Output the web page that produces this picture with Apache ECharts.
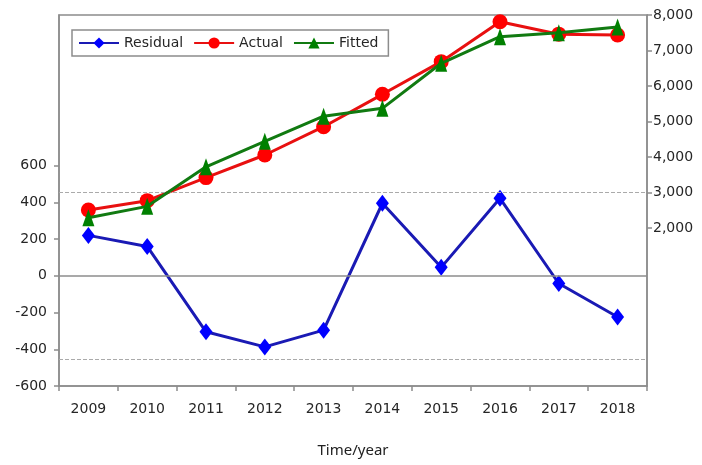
<!DOCTYPE html>
<html>
<head>
<meta charset="utf-8">
<script src="https://cdn.jsdelivr.net/npm/echarts@6/dist/echarts.min.js"></script>
<style>
  html, body { margin: 0; padding: 0; background: #fff; }
  #chart { width: 702px; height: 465px; }
</style>
</head>
<body>
<div id="chart"></div>
<script>
// Years on the horizontal axis
var years = ['2009', '2010', '2011', '2012', '2013', '2014', '2015', '2016', '2017', '2018'];
// Observed values (right axis)
var actual = [2507, 2770, 3420, 4056, 4854, 5766, 6686, 7811, 7460, 7437];
// Model fitted values (right axis)
var fitted = [2287, 2610, 3725, 4443, 5150, 5371, 6640, 7389, 7502, 7661];
// Residual = actual - fitted (left axis)
var residual = [220, 160, -305, -387, -296, 395, 46, 422, -42, -224];
// Residual reference lines: +/- one standard error
var residualBand = [455, -455];
// Tick labels shown on each value axis
var leftTicks = [-600, -400, -200, 0, 200, 400, 600];
var rightTicks = [2000, 3000, 4000, 5000, 6000, 7000, 8000];

function withCommas(v) {
  return String(v).replace(/\B(?=(\d{3})+(?!\d))/g, ',');
}

var axisGray = '#8c8c8c';
var labelStyle = { color: '#262626', fontSize: 14, fontFamily: 'DejaVu Sans, Verdana, sans-serif' };

var chart = echarts.init(document.getElementById('chart'), null, { renderer: 'canvas' });

chart.setOption({
  animation: false,
  backgroundColor: '#fff',
  grid: {
    left: 59, right: 55, top: 15, bottom: 79,
    show: true, borderColor: axisGray, borderWidth: 1.5, backgroundColor: 'transparent'
  },
  legend: {
    left: 72, top: 30,
    orient: 'horizontal',
    padding: [6, 10, 6, 6],
    itemGap: 10,
    itemWidth: 40, itemHeight: 14,
    borderColor: axisGray, borderWidth: 1.5,
    textStyle: { color: '#262626', fontSize: 14, fontFamily: 'DejaVu Sans, Verdana, sans-serif' },
    data: ['Residual', 'Actual', 'Fitted']
  },
  xAxis: {
    type: 'category',
    data: years,
    boundaryGap: true,
    name: 'Time/year',
    nameLocation: 'middle',
    nameGap: 57,
    nameTextStyle: { color: '#222', fontSize: 15, fontFamily: 'Noto Sans, Liberation Sans, sans-serif' },
    axisLine: { onZero: false, lineStyle: { color: axisGray, width: 1.5 } },
    axisTick: { show: true, length: 5, lineStyle: { color: axisGray, width: 1.5 } },
    axisLabel: Object.assign({ margin: 16 }, labelStyle),
    splitLine: { show: false }
  },
  yAxis: [
    {
      type: 'value',
      position: 'left',
      min: -600, max: 1420,
      axisLine: { show: true, onZero: false, lineStyle: { color: axisGray, width: 1.5 } },
      axisTick: { show: true, length: 5, customValues: leftTicks, lineStyle: { color: axisGray, width: 1.5 } },
      axisLabel: Object.assign({ margin: 12, customValues: leftTicks }, labelStyle),
      splitLine: { show: false }
    },
    {
      type: 'value',
      position: 'right',
      min: -2450, max: 8000,
      axisLine: { show: true, onZero: false, lineStyle: { color: axisGray, width: 1.5 } },
      axisTick: { show: true, length: 5, customValues: rightTicks, lineStyle: { color: axisGray, width: 1.5 } },
      axisLabel: Object.assign({ margin: 6, customValues: rightTicks, formatter: function (v) { return withCommas(v); } }, labelStyle),
      splitLine: { show: false }
    }
  ],
  series: [
    {
      name: 'Residual',
      type: 'line',
      yAxisIndex: 0,
      data: residual,
      symbol: 'diamond',
      symbolSize: [13, 17],
      lineStyle: { color: '#1a1ab4', width: 3 },
      itemStyle: { color: '#0000ff' },
      z: 3,
      markLine: {
        silent: true,
        symbol: 'none',
        label: { show: false },
        data: [
          { yAxis: 0, lineStyle: { color: axisGray, width: 1.5, type: 'solid' } },
          { yAxis: residualBand[0], lineStyle: { color: '#aaaaaa', width: 1.2, type: [4, 2] } },
          { yAxis: residualBand[1], lineStyle: { color: '#aaaaaa', width: 1.2, type: [4, 2] } }
        ]
      }
    },
    {
      name: 'Actual',
      type: 'line',
      yAxisIndex: 1,
      data: actual,
      symbol: 'circle',
      symbolSize: 15,
      lineStyle: { color: '#e81010', width: 3 },
      itemStyle: { color: '#ff0000' },
      z: 4
    },
    {
      name: 'Fitted',
      type: 'line',
      yAxisIndex: 1,
      data: fitted,
      symbol: 'triangle',
      symbolSize: [12, 17],
      lineStyle: { color: '#117a11', width: 3 },
      itemStyle: { color: '#008000' },
      z: 5
    }
  ]
});
</script>
</body>
</html>
